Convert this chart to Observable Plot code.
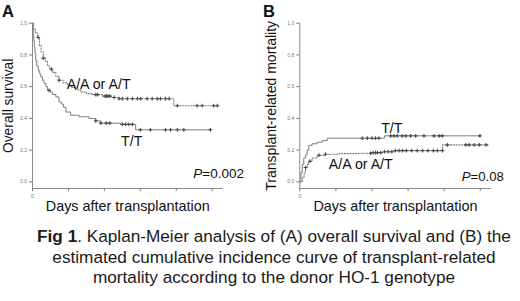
<!DOCTYPE html>
<html>
<head>
<meta charset="utf-8">
<script src="https://cdn.jsdelivr.net/npm/d3@7"></script>
<script src="https://cdn.jsdelivr.net/npm/@observablehq/plot@0.6"></script>
<style>
  html, body { margin: 0; padding: 0; background: #fff; }
  #wrap { position: relative; width: 520px; height: 301px; overflow: hidden; font-family: "Liberation Sans", Arial, sans-serif; }
  .panel { position: absolute; top: 0; }
  .letter { position: absolute; top: 3px; font-size: 16.5px; font-weight: bold; line-height: 1; color: #111; }
  #caption { position: absolute; left: 24px; width: 500px; top: 226px; text-align: center; font-size: 17.2px; line-height: 20.5px; color: #1a1a1a; }
</style>
</head>
<body>
<div id="wrap">
  <div class="panel" id="pa" style="left:0"></div>
  <div class="panel" id="pb" style="left:260px"></div>
  <div class="letter" style="left:2px">A</div>
  <div class="letter" style="left:263px">B</div>
  <div id="caption"><b>Fig 1</b>. Kaplan-Meier analysis of (A) overall survival and (B) the estimated cumulative incidence curve of transplant-related mortality according to the donor HO-1 genotype</div>
</div>
<script>
// ---- Data (time in x-axis tick units) ----
const genotypes = ["A/A or A/T", "T/T"];

// Panel A: overall survival
const osAA_t = [0, 0.03, 0.08, 0.14, 0.19, 0.24, 0.30, 0.36, 0.42, 0.48, 0.55, 0.65, 0.74, 0.85, 0.97, 1.08, 1.2, 1.34, 1.5, 1.65, 1.95, 2.2, 2.4, 3.93, 5.19];
const osAA_s = [1.0, 0.96, 0.94, 0.91, 0.86, 0.82, 0.78, 0.76, 0.73, 0.71, 0.69, 0.665, 0.64, 0.625, 0.61, 0.595, 0.58, 0.566, 0.556, 0.55, 0.54, 0.532, 0.524, 0.48, 0.48];
const osTT_t = [0, 0.01, 0.02, 0.035, 0.05, 0.07, 0.09, 0.12, 0.16, 0.2, 0.23, 0.28, 0.32, 0.37, 0.42, 0.5, 0.56, 0.65, 0.74, 0.8, 0.86, 0.93, 1.06, 1.3, 1.57, 1.76, 1.9, 2.45, 2.87, 4.97];
const osTT_s = [1.0, 0.96, 0.93, 0.89, 0.85, 0.81, 0.765, 0.73, 0.70, 0.68, 0.66, 0.64, 0.62, 0.60, 0.577, 0.565, 0.55, 0.535, 0.503, 0.49, 0.47, 0.44, 0.42, 0.41, 0.40, 0.384, 0.37, 0.362, 0.328, 0.328];
const osAA_censor = [0.16, 0.3, 0.53, 0.74, 1.76, 1.81, 2.02, 2.06, 2.1, 2.15, 2.27, 2.41, 2.5, 2.64, 2.78, 2.92, 3.01, 3.19, 3.33, 3.47, 3.56, 3.7, 3.8, 4.03, 4.58, 4.72, 5.04, 5.14];
const osTT_censor = [0.46, 1.76, 1.9, 2.05, 2.15, 2.5, 2.59, 2.68, 2.78, 3.0, 3.28, 3.7, 3.84, 4.03, 4.21, 4.95];

// Panel B: transplant-related mortality (cumulative incidence)
const trmAA_t = [0, 0.07, 0.12, 0.16, 0.21, 0.25, 0.34, 0.48, 0.71, 1.08, 1.63, 2.02, 2.3, 2.6, 3.96, 5.25];
const trmAA_v = [0, 0.03, 0.06, 0.09, 0.11, 0.13, 0.15, 0.168, 0.174, 0.178, 0.18, 0.184, 0.19, 0.197, 0.233, 0.233];
const trmTT_t = [0, 0.03, 0.07, 0.11, 0.16, 0.2, 0.25, 0.34, 0.48, 0.62, 0.76, 2.35, 4.99];
const trmTT_v = [0, 0.06, 0.11, 0.15, 0.17, 0.2, 0.23, 0.24, 0.25, 0.26, 0.275, 0.29, 0.29];
const trmAA_censor = [0.16, 0.28, 0.53, 0.71, 1.96, 2.03, 2.1, 2.15, 2.24, 2.35, 2.45, 2.55, 2.65, 2.75, 2.85, 2.95, 3.1, 3.25, 3.4, 3.55, 3.7, 3.81, 3.95, 4.09, 4.6, 4.69, 4.83, 4.97, 5.16];
const trmTT_censor = [1.73, 1.87, 2.0, 2.1, 2.19, 2.52, 2.61, 2.7, 2.84, 2.94, 3.07, 3.21, 3.44, 3.72, 3.86, 3.95, 4.99];

const yTicks = [0, 0.2, 0.4, 0.6, 0.8, 1.0];
const xTicks = [0, 1, 2, 3, 4, 5];
const xDomain = [0, 5.3];
const yDomain = [-0.042, 1];

// ---- helpers ----
const toRows = (ts, vs, g) => ts.map((t, i) => ({t, v: vs[i], g}));
const valueAt = (ts, vs, t) => vs[Math.max(0, d3.bisectRight(ts, t) - 1)];
const censorRows = (cs, ts, vs, g) => cs.map(t => ({t, v: valueAt(ts, vs, t), g}));

function panel(opts) {
  const {lines, censors, yLabel, labels, marginLeft, marginRight, yLabelDx, yLabelSize} = opts;
  const gray = "#7c7c7c";
  return Plot.plot({
    width: 260,
    height: 215,
    marginLeft, marginRight,
    marginTop: 22.7,
    marginBottom: 27,
    style: {background: "transparent", fontFamily: "'Liberation Sans', Arial, sans-serif"},
    x: {domain: xDomain},
    y: {domain: yDomain},
    marks: [
      Plot.ruleX([0], {stroke: "#8a8a8a", strokeWidth: 1}),
      Plot.ruleY([yDomain[0]], {stroke: "#8a8a8a", strokeWidth: 1}),
      Plot.axisY({ticks: yTicks, tickFormat: d3.format(".1f"), fontSize: 5, tickSize: 3, tickPadding: 2.5, color: "#777", label: null}),
      Plot.axisX({ticks: xTicks, tickFormat: d => d === 0 ? "0" : "", fontSize: 5, tickSize: 3, tickPadding: 3, color: "#777", label: null}),
      ...lines.map(L => Plot.line(L.rows, {x: "t", y: "v", curve: "step-after", stroke: gray, strokeWidth: L.dashed ? 1.1 : 1, strokeDasharray: L.dashed ? "1.2,1.6" : null})),
      ...censors.map(C => Plot.dot(C, {x: "t", y: "v", symbol: "plus", r: 1.3, stroke: "#4a4a4a", strokeWidth: 1.1, fill: "none"})),
      Plot.text([yLabel], {frameAnchor: "left", dx: yLabelDx, rotate: -90, textAnchor: "middle", fontSize: yLabelSize, fill: "#111", lineAnchor: "middle"}),
      Plot.text(["Days after transplantation"], {frameAnchor: "bottom", dy: 22, textAnchor: "middle", lineAnchor: "bottom", fontSize: 14.4, fill: "#111"}),
      Plot.text(labels, {x: "x", y: "y", text: "text", textAnchor: "anchor", lineAnchor: "bottom", fontSize: "size", fill: "#111"})
    ]
  });
}

const svgA = panel({
  lines: [
    {rows: toRows(osAA_t, osAA_s, genotypes[0]), dashed: true},
    {rows: toRows(osTT_t, osTT_s, genotypes[1]), dashed: false}
  ],
  censors: [
    censorRows(osAA_censor, osAA_t, osAA_s, genotypes[0]),
    censorRows(osTT_censor, osTT_t, osTT_s, genotypes[1])
  ],
  yLabel: "Overall survival",
  yLabelDx: -24,
  yLabelSize: 13.8,
  labels: [
    {text: genotypes[0], x: 1.84, y: 0.584, anchor: "start", size: 14.2},
    {text: genotypes[1], x: 2.76, y: 0.225, anchor: "middle", size: 14.2},
    {text: "P=0.002", x: 5.18, y: 0.027, anchor: "end", size: 13.5}
  ],
  marginLeft: 32, marginRight: 37.5
});

const svgB = panel({
  lines: [
    {rows: toRows(trmAA_t, trmAA_v, genotypes[0]), dashed: true},
    {rows: toRows(trmTT_t, trmTT_v, genotypes[1]), dashed: false}
  ],
  censors: [
    censorRows(trmAA_censor, trmAA_t, trmAA_v, genotypes[0]),
    censorRows(trmTT_censor, trmTT_t, trmTT_v, genotypes[1])
  ],
  yLabel: "Transplant-related mortality",
  yLabelDx: -28.5,
  yLabelSize: 14,
  labels: [
    {text: genotypes[1], x: 2.55, y: 0.31, anchor: "middle", size: 14.2},
    {text: genotypes[0], x: 1.69, y: 0.084, anchor: "start", size: 14.2},
    {text: "P=0.08", x: 5.07, y: 0.008, anchor: "end", size: 13.2}
  ],
  marginLeft: 39.3, marginRight: 29.4
});

// italic P in the p-value labels
for (const svg of [svgA, svgB]) {
  d3.select(svg).selectAll("text").each(function() {
    const t = this.textContent;
    if (/^P=/.test(t)) {
      const el = d3.select(this);
      el.text(null);
      el.append("tspan").attr("font-style", "italic").text("P");
      el.append("tspan").text(t.slice(1));
    }
  });
}

document.getElementById("pa").appendChild(svgA);
document.getElementById("pb").appendChild(svgB);
</script>
</body>
</html>
